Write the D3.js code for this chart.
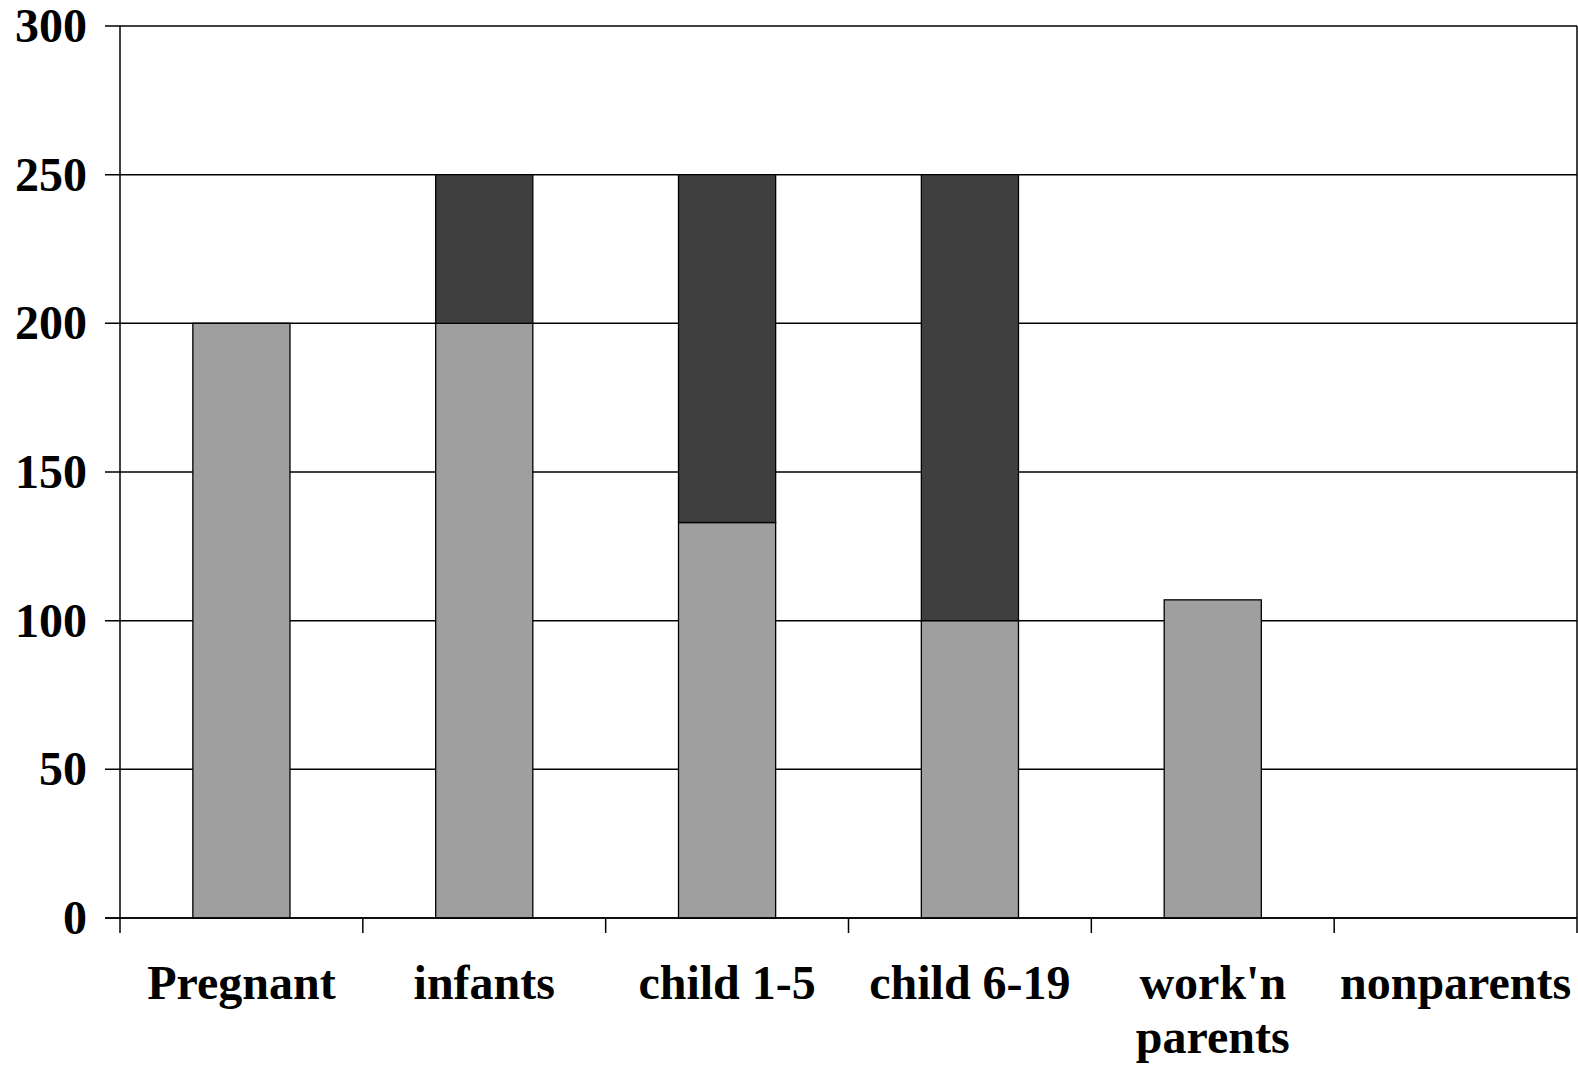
<!DOCTYPE html>
<html>
<head>
<meta charset="utf-8">
<script src="https://cdn.jsdelivr.net/npm/d3@7"></script>
<style>
  html, body { margin: 0; padding: 0; background: #fff; }
  text { font-family: "Liberation Serif", "Times New Roman", serif; font-weight: 700; fill: #000; }
</style>
</head>
<body>
<div id="chart"></div>
<script>
var categories = ["Pregnant", "infants", "child 1-5", "child 6-19", "work'n parents", "nonparents"];
var tickLabels = [["Pregnant"], ["infants"], ["child 1-5"], ["child 6-19"], ["work'n", "parents"], ["nonparents"]];
var lowerValues = [200, 200, 133, 100, 107, 0];
var upperValues = [0, 50, 117, 150, 0, 0];
var yTicks = [0, 50, 100, 150, 200, 250, 300];
var seriesColors = ["#9f9f9f", "#3f3f3f"];

var totalW = 1578, totalH = 1065;
var margin = {top: 26, right: 1, bottom: 147, left: 120},
    width = totalW - margin.left - margin.right,
    height = totalH - margin.top - margin.bottom;

var svg = d3.select("#chart")
  .append("svg")
    .attr("width", totalW)
    .attr("height", totalH)
  .append("g")
    .attr("transform", "translate(" + margin.left + "," + margin.top + ")");

var x = d3.scaleBand()
  .domain(categories)
  .range([0, width])
  .paddingInner(0.6)
  .paddingOuter(0.3);

var y = d3.scaleLinear()
  .domain([0, 300])
  .range([height, 0]);

var step = x.step();
var tickLen = 15;

// gridlines (with outside ticks on the left)
svg.selectAll(".grid")
  .data(yTicks)
  .enter()
  .append("line")
    .attr("x1", -tickLen)
    .attr("x2", width)
    .attr("y1", function (d) { return y(d); })
    .attr("y2", function (d) { return y(d); })
    .attr("stroke", "#000")
    .attr("stroke-width", 1.5);

// y tick labels
svg.selectAll(".ylab")
  .data(yTicks)
  .enter()
  .append("text")
    .attr("x", -33)
    .attr("y", function (d) { return y(d); })
    .attr("dy", "0.33em")
    .attr("text-anchor", "end")
    .style("font-size", "48px")
    .text(function (d) { return d; });

// stacked bars
var rows = categories.map(function (c, i) {
  return {cat: c, lower: lowerValues[i], upper: upperValues[i]};
});
var stacked = d3.stack().keys(["lower", "upper"])(rows);

svg.selectAll(".series")
  .data(stacked)
  .enter()
  .append("g")
    .attr("fill", function (d, i) { return seriesColors[i]; })
  .selectAll("rect")
  .data(function (d) { return d.filter(function (p) { return p[1] - p[0] > 0; }); })
  .enter()
  .append("rect")
    .attr("x", function (d) { return x(d.data.cat); })
    .attr("y", function (d) { return y(d[1]); })
    .attr("width", x.bandwidth())
    .attr("height", function (d) { return y(d[0]) - y(d[1]); })
    .attr("stroke", "#000")
    .attr("stroke-width", 1.3);

// x axis line again on top of bars
svg.append("line")
  .attr("x1", -tickLen).attr("x2", width)
  .attr("y1", y(0)).attr("y2", y(0))
  .attr("stroke", "#000").attr("stroke-width", 1.5);

// y axis line and right border
svg.append("line")
  .attr("x1", 0).attr("x2", 0)
  .attr("y1", 0).attr("y2", height + tickLen)
  .attr("stroke", "#000").attr("stroke-width", 1.5);
svg.append("line")
  .attr("x1", width).attr("x2", width)
  .attr("y1", 0).attr("y2", height + tickLen)
  .attr("stroke", "#000").attr("stroke-width", 1.5);

// x ticks at category boundaries
svg.selectAll(".xtick")
  .data(categories.slice(1))
  .enter()
  .append("line")
    .attr("x1", function (d) { return x(d) - step * 0.3; })
    .attr("x2", function (d) { return x(d) - step * 0.3; })
    .attr("y1", height)
    .attr("y2", height + tickLen)
    .attr("stroke", "#000")
    .attr("stroke-width", 1.5);

// x labels
svg.selectAll(".xlab")
  .data(categories)
  .enter()
  .append("text")
    .attr("text-anchor", "middle")
    .style("font-size", "48px")
    .attr("transform", function (d) {
      return "translate(" + (x(d) + x.bandwidth() / 2) + "," + (height + 81) + ")";
    })
  .selectAll("tspan")
  .data(function (d, i) { return tickLabels[i]; })
  .enter()
  .append("tspan")
    .attr("x", 0)
    .attr("y", function (d, i) { return i * 54; })
    .text(function (d) { return d; });
</script>
</body>
</html>
